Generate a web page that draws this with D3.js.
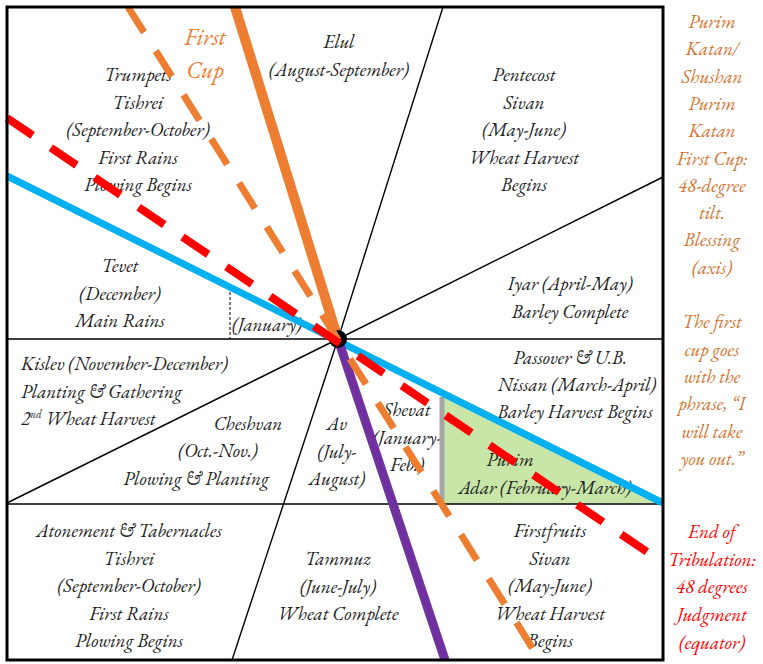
<!DOCTYPE html>
<html><head><meta charset="utf-8">
<script src="https://cdn.jsdelivr.net/npm/d3@7"></script>
<style>body{margin:0;background:#fff}svg{display:block}</style>
</head><body>
<script>
// Diagram coordinates (units = px inside the frame; origin = top-left of frame)
const frame = [0, 0, 656, 653];
const centerPt = [331, 332];
const dividers = [ // black divider segments
  [[0, 332], [656, 332]],
  [[0, 497], [656, 497]],
  [[331, 332], [436, 0]],
  [[331, 332], [656, 170]],
  [[331, 332], [0, 496]],
  [[331, 332], [225, 653]]
];
const dashedDivider = [[223, 285], [223, 332]];
const greenZone = [[435, 385], [435, 497], [656, 496]];
const greyBar = [[435, 390], [435, 497]];
const blueLine = [[0, 169], [656, 496]];
const redLine = [[0, 111], [655, 555]];
const orangeDashed = [[121, 0], [533, 653]];
const orangeSolid = [[228, 0], [331, 332]];
const purpleLine = [[331, 332], [438, 653]];

const regionText = [
  ["Trumpets","Tishrei","(September-October)","First Rains","Plowing Begins"],
  ["Elul","(August-September)"],
  ["Pentecost","Sivan","(May-June)","Wheat Harvest","Begins"],
  ["Tevet","(December)","Main Rains"],
  ["(January)"],
  ["Iyar (April-May)","Barley Complete"],
  ["Cheshvan"],["(Oct.-Nov.)"],["Plowing & Planting"],
  ["Av","(July-","August)"],
  ["Shevat","(January-","Feb.)"],
  ["Passover & U.B."],["Nissan (March-April)"],["Barley Harvest Begins"],
  ["Purim"],["Adar (February-March)"],
  ["Atonement & Tabernacles","Tishrei","(September-October)","First Rains","Plowing Begins"],
  ["Tammuz","(June-July)","Wheat Complete"],
  ["Firstfruits","Sivan","(May-June)","Wheat Harvest","Begins"]
];
const regionAnchor = [
  [131,68],[332,35],[517,68],[113,259],[260,318],[563,277],
  [241,417],[211,444],[189,472],[330,417],[400,403],
  [563,351],[570,378],[568,405],[503,453],[538,481],
  [122,524],[331,552],[543,524]
];
const kislevText = ["Kislev (November-December)","Planting & Gathering","2|nd| Wheat Harvest"];
const kislevAnchor = [14, 357];
const cupTitle = ["First","Cup"];
const cupAnchor = [198, 30];
const sideOrange = ["Purim","Katan/","Shushan","Purim","Katan","First Cup:","48-degree","tilt.","Blessing","(axis)","","The first","cup goes","with the","phrase, \u201cI","will take","you out.\u201d"];
const sideRed = ["End of","Tribulation:","48 degrees","Judgment","(equator)"];

const W = 763, H = 664;
const FONT = "EB Garamond";
const x = d3.scaleLinear().domain([0, 656]).range([7, 663]);
const y = d3.scaleLinear().domain([0, 653]).range([7, 660]);
const LH = 27.5;

const svg = d3.select("body").append("svg").attr("width", W).attr("height", H);
const line = d3.line().x(d => x(d[0])).y(d => y(d[1]));
const txt = () => svg.append("text").attr("font-family", FONT).attr("font-style", "italic");

// green zone
svg.append("path").attr("d", line(greenZone) + "Z").attr("fill", "#c7e6a8");

// dividers
svg.selectAll(".div").data(dividers).join("path").attr("d", d => line(d))
  .attr("stroke", "#000").attr("stroke-width", 1.4).attr("fill", "none");
svg.append("path").attr("d", line(dashedDivider)).attr("stroke", "#000")
  .attr("stroke-width", 1).attr("stroke-dasharray", "3,2");

// region text
const fs = 19;
regionText.forEach((lines, i) => {
  const a = regionAnchor[i];
  const t = txt().attr("text-anchor", "middle").attr("font-size", fs).attr("fill", "#222");
  lines.forEach((s, j) => t.append("tspan").attr("x", x(a[0])).attr("y", y(a[1]) + 6 + j * LH).text(s));
});
{
  const t = txt().attr("font-size", fs).attr("fill", "#222");
  kislevText.forEach((s, j) => {
    const parts = s.split("|");
    const ts = t.append("tspan").attr("x", x(kislevAnchor[0])).attr("y", y(kislevAnchor[1]) + 6 + j * LH);
    if (parts.length > 1) {
      ts.text(parts[0]);
      t.append("tspan").attr("font-size", 11).attr("dy", -7).text(parts[1]);
      t.append("tspan").attr("dy", 7).text(parts[2]);
    } else ts.text(s);
  });
}
{
  const t = txt().attr("text-anchor", "middle").attr("font-size", 24).attr("fill", "#ED7D31");
  cupTitle.forEach((s, j) => t.append("tspan").attr("x", x(cupAnchor[0])).attr("y", y(cupAnchor[1]) + 8 + j * 33).text(s));
}

// grey bar
svg.append("path").attr("d", line(greyBar)).attr("stroke", "#a6a6a6").attr("stroke-width", 5);

// blue line
svg.append("path").attr("d", line(blueLine)).attr("stroke", "#00B0F0").attr("stroke-width", 7);
// purple
svg.append("path").attr("d", line(purpleLine)).attr("stroke", "#7030A0").attr("stroke-width", 9);
// orange solid
svg.append("path").attr("d", line(orangeSolid)).attr("stroke", "#ED7D31").attr("stroke-width", 10);
// center dot
svg.append("circle").attr("cx", x(centerPt[0])).attr("cy", y(centerPt[1])).attr("r", 9).attr("fill", "#000");
// orange dashed
svg.append("path").attr("d", line(orangeDashed)).attr("stroke", "#ED7D31").attr("stroke-width", 7)
  .attr("stroke-dasharray", "30,22");
// red dashed
svg.append("path").attr("d", line(redLine)).attr("stroke", "#FF0000").attr("stroke-width", 8)
  .attr("stroke-dasharray", "31,22");

// frame
svg.append("rect").attr("x", x(frame[0])).attr("y", y(frame[1]))
  .attr("width", x(frame[2]) - x(frame[0])).attr("height", y(frame[3]) - y(frame[1]))
  .attr("fill", "none").attr("stroke", "#000").attr("stroke-width", 3);

// side notes
{
  const t = txt().attr("text-anchor", "middle").attr("font-size", fs).attr("fill", "#D2742F");
  sideOrange.forEach((s, j) => t.append("tspan").attr("x", 712).attr("y", 28 + j * 27.3).text(s));
  const r = txt().attr("text-anchor", "middle").attr("font-size", fs).attr("fill", "#FF0000");
  sideRed.forEach((s, j) => r.append("tspan").attr("x", 712).attr("y", 538 + j * 27.7).text(s));
}
</script>
</body></html>
